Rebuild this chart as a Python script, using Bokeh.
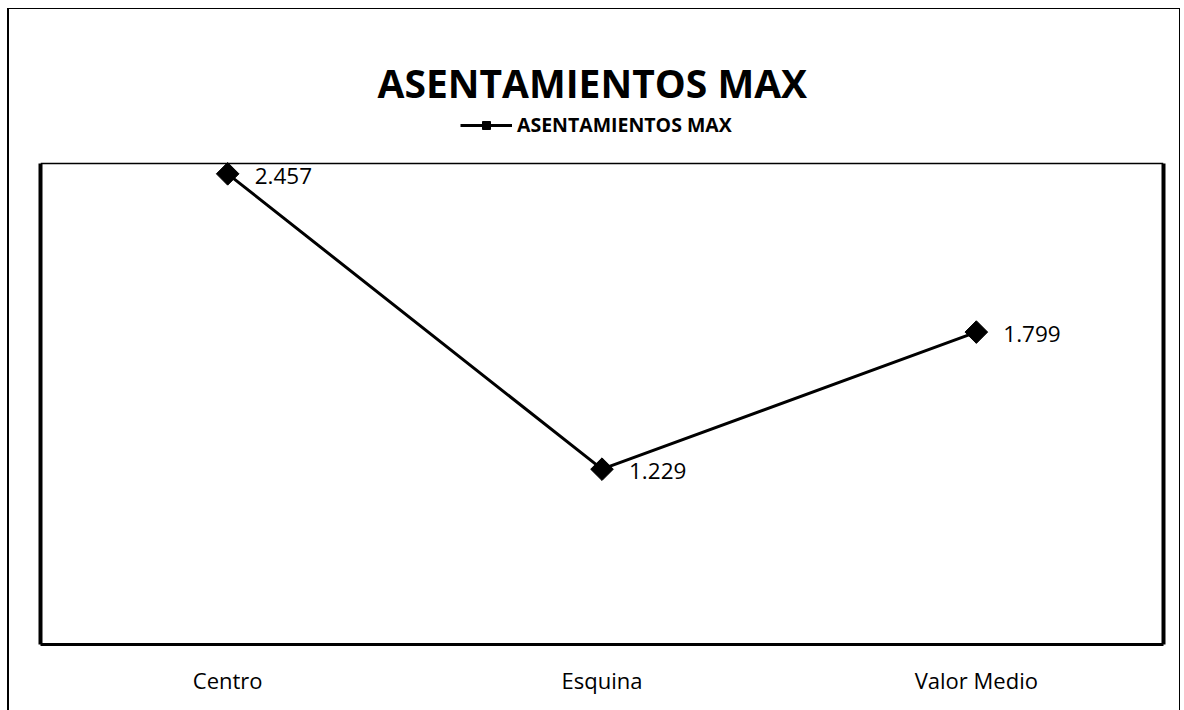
import math
from bokeh.plotting import figure
from bokeh.models import (ColumnDataSource, FactorRange, Range1d, LabelSet, Legend,
                          LegendItem, LinearAxis, FixedTicker, Title, Span)
from bokeh.core.properties import value
from bokeh.embed import file_html
from bokeh.resources import INLINE

categories = ["Centro", "Esquina", "Valor Medio"]
values = [2.457, 1.229, 1.799]
series_name = "ASENTAMIENTOS MAX"
title_text = "ASENTAMIENTOS MAX"
labels = ["%.3f" % v for v in values]
y_min, y_max = 0.5, 2.5

FONT = "Open Sans"

# layout (figure pixels)
FRAME_TOP = 100          # top of the drawing frame (legend lives in it)
BOX_TOP = 155            # top of the visible plot box (value y_max)
FRAME_BOTTOM = 636
px_per_unit = (FRAME_BOTTOM - BOX_TOP) / (y_max - y_min)
y_top = y_max + (BOX_TOP - FRAME_TOP) / px_per_unit

src = ColumnDataSource(dict(cat=categories, val=values, lbl=labels))

p = figure(width=1173, height=702, x_range=FactorRange(*categories),
           y_range=Range1d(y_min, y_top), output_backend="svg", toolbar_location=None,
           title=None, min_border_left=33, min_border_right=17,
           min_border_top=FRAME_TOP, min_border_bottom=702 - FRAME_BOTTOM)
p.border_fill_color = None
p.background_fill_color = "white"
p.outline_line_color = None
p.styles = {"margin-left": "7px", "margin-top": "8px", "background-color": "white",
            "box-shadow": "inset 2px 1px 0 0 black, inset -1px 0 0 0 black"}

t = Title(text=title_text, align="left", offset=337, text_font=FONT,
          text_font_size="39px", text_font_style="bold", text_color="black", standoff=0)
p.add_layout(t, "above")

ln = p.line("cat", "val", source=src, line_width=3, line_color="black")
sc = p.scatter("cat", "val", source=src, marker="square", angle=math.pi / 4,
               size=16, fill_color="black", line_color="black")

ls = LabelSet(x="cat", y="val", text="lbl", source=src, x_offset=27, y_offset=-2,
              text_align="left", text_baseline="middle", text_font=value(FONT),
              text_font_size=value("22.5px"), text_color="black")
p.add_layout(ls)

leg = Legend(items=[LegendItem(label=series_name, renderers=[ln, sc])],
             location=(420, 506), orientation="horizontal",
             glyph_width=52, glyph_height=20, label_standoff=5, padding=0, margin=0,
             spacing=0, border_line_color=None, background_fill_alpha=0,
             label_text_font=FONT, label_text_font_size="19.5px",
             label_text_font_style="bold", label_text_color="black", label_height=20)
p.add_layout(leg, "center")

top_line = Span(location=y_max, dimension="width", line_color="black", line_width=1.5)
p.add_layout(top_line)

p.xgrid.visible = False
p.ygrid.visible = False

p.xaxis.axis_line_width = 3
p.xaxis.axis_line_color = "black"
p.xaxis.major_tick_line_color = None
p.xaxis.minor_tick_line_color = None
p.xaxis.major_label_text_font = FONT
p.xaxis.major_label_text_font_size = "22px"
p.xaxis.major_label_text_color = "black"
p.xaxis.major_label_standoff = 14

p.yaxis.ticker = FixedTicker(ticks=[])
p.yaxis.bounds = (y_min, y_max)
p.yaxis.axis_line_width = 4
p.yaxis.axis_line_color = "black"
p.yaxis.major_tick_line_color = None
p.yaxis.minor_tick_line_color = None

ra = LinearAxis(ticker=FixedTicker(ticks=[]), bounds=(y_min, y_max), axis_line_width=4,
                axis_line_color="black", major_tick_line_color=None,
                minor_tick_line_color=None)
p.add_layout(ra, "right")

open("out.html", "w").write(file_html(p, INLINE))
